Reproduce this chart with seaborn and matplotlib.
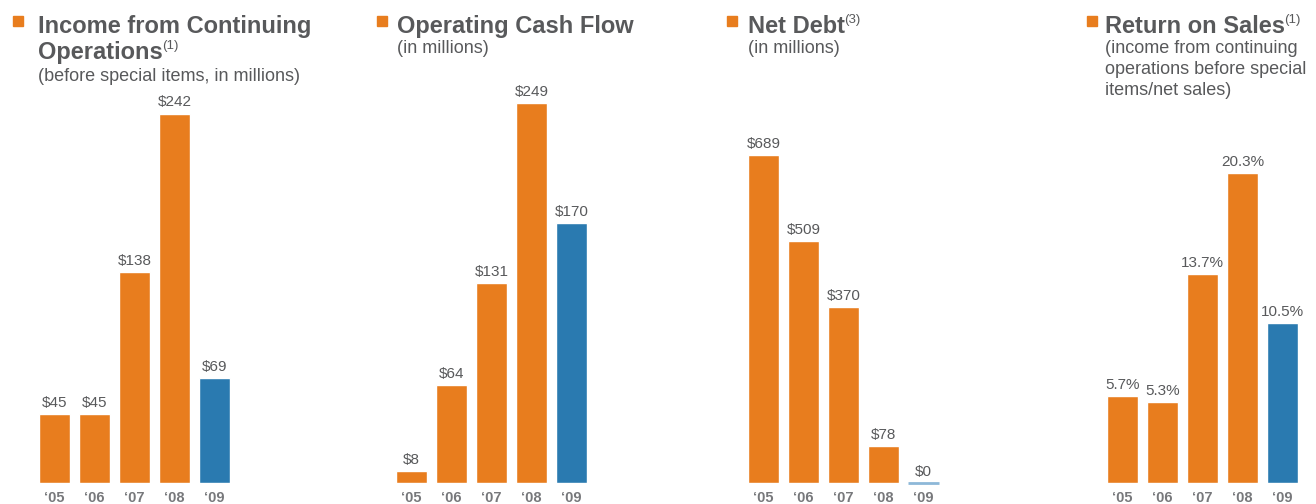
import matplotlib
matplotlib.use("Agg")
import matplotlib.pyplot as plt
import seaborn as sns
import pandas as pd

# dati
years = ["\u201805", "\u201806", "\u201807", "\u201808", "\u201809"]
income = [45, 45, 138, 242, 69]
cash_flow = [8, 64, 131, 249, 170]
net_debt = [689, 509, 370, 78, 0]
ros = [5.7, 5.3, 13.7, 20.3, 10.5]

titles = [["Income from Continuing", "Operations"], ["Operating Cash Flow"],
          ["Net Debt"], ["Return on Sales"]]
sups = ["(1)", "", "(3)", "(1)"]
subtitles = [["(before special items, in millions)"], ["(in millions)"], ["(in millions)"],
             ["(income from continuing", "operations before special", "items/net sales)"]]

ORANGE = "#E87D1E"
BLUE = "#2A7AB0"
GREY = "#58595B"
W, H = 1316, 504

sns.set_theme(style="white")
plt.rcParams["font.family"] = ["Liberation Sans", "DejaVu Sans"]

fig = plt.figure(figsize=(W / 100, H / 100), dpi=100)

# (valori, formato, ylim max, bordo sinistro assi, x quadratino, x titolo)
panels = [
    (income, "${:.0f}", 264, 34.5, 13, 38),
    (cash_flow, "${:.0f}", 264, 391.5, 377, 397),
    (net_debt, "${:.0f}", 847, 743.5, 727, 748),
    (ros, "{:.1f}%", 26.4, 1102.5, 1087, 1105),
]

bottom_px, top_px = 483, 80
renderer = fig.canvas.get_renderer()

for i, (vals, fmt, ymax, left, sq_x, tx) in enumerate(panels):
    ax = fig.add_axes([left / W, (H - bottom_px) / H, 200 / W, (bottom_px - top_px) / H])
    df = pd.DataFrame({"year": years, "val": vals})
    colors = [ORANGE] * 4 + [BLUE]
    sns.barplot(data=df, x="year", y="val", hue="year", palette=colors,
                legend=False, width=0.78, ax=ax, saturation=1)
    ax.set_xlim(-0.5, 4.5)
    ax.set_ylim(0, ymax)
    ax.set_xlabel("")
    ax.set_ylabel("")
    ax.set_yticks([])
    ax.tick_params(axis="x", length=0, pad=6)
    for lab in ax.get_xticklabels():
        lab.set_fontsize(10.5)
        lab.set_fontweight("bold")
        lab.set_color("#77787B")
    sns.despine(ax=ax, left=True, bottom=True)

    for p, v in zip(ax.patches, vals):
        cx = p.get_x() + p.get_width() / 2
        if v == 0:
            ax.plot([p.get_x(), p.get_x() + p.get_width()], [0, 0],
                    color="#8DB8D8", lw=2, solid_capstyle="butt", clip_on=False)
        ax.annotate(fmt.format(v), (cx, v), xytext=(0, 3), textcoords="offset points",
                    ha="center", va="bottom", fontsize=11, color=GREY)

    # quadratino arancione + titolo
    fig.patches.append(plt.Rectangle((sq_x / W, (H - 26) / H), 10 / W, 10 / H,
                                     transform=fig.transFigure, color=ORANGE))
    y = 33
    t = None
    for line in titles[i]:
        t = fig.text(tx / W, (H - y) / H, line, fontsize=17, fontweight="bold",
                     color=GREY, va="baseline", ha="left")
        y += 26
    if sups[i]:
        bb = t.get_window_extent(renderer)
        fig.text((bb.x1 - 1) / W, (H - (y - 26) + 10) / H, sups[i], fontsize=9.5,
                 color=GREY, va="baseline", ha="left")
    y = 81 if i == 0 else 53
    for line in subtitles[i]:
        fig.text(tx / W, (H - y) / H, line, fontsize=13, color=GREY,
                 va="baseline", ha="left")
        y += 21

fig.savefig("out.png", dpi=100)
